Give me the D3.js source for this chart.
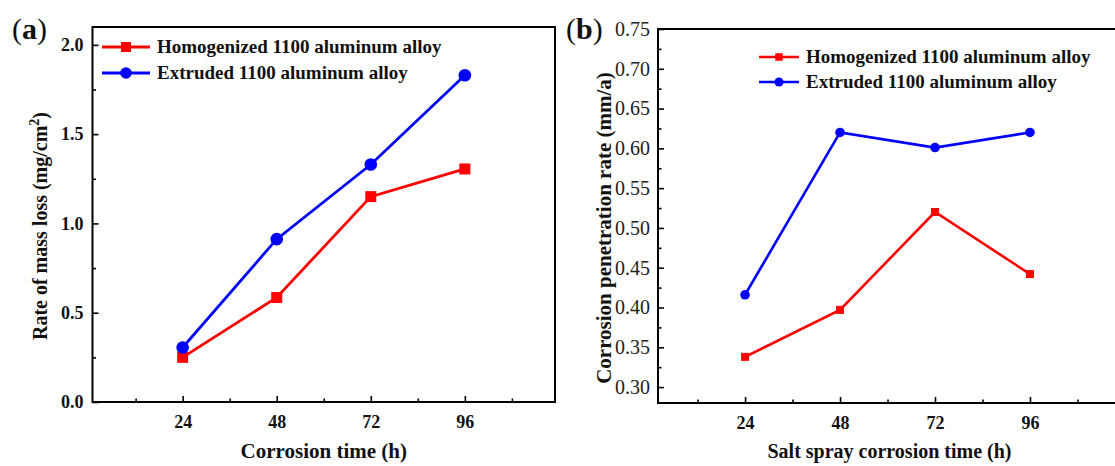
<!DOCTYPE html>
<html>
<head>
<meta charset="utf-8">
<script src="https://cdn.jsdelivr.net/npm/d3@7"></script>
<style>
  body { margin: 0; background: #fff; }
  svg { display: block; font-family: "Liberation Serif", "Times New Roman", serif; }
</style>
</head>
<body>
<script>
// data
var hours = [24, 48, 72, 96];
var massLossHomog = [0.25, 0.585, 1.15, 1.305];
var massLossExtr = [0.305, 0.912, 1.33, 1.83];
var penHomog = [0.338, 0.397, 0.52, 0.442];
var penExtr = [0.416, 0.62, 0.601, 0.62];

var xTicks = [24, 48, 72, 96];
var xMinorTicks = [12, 36, 60, 84, 108];
var yTicksA = [0, 0.5, 1.0, 1.5, 2.0];
var yMinorA = [0.25, 0.75, 1.25, 1.75];
var yTicksB = [0.30, 0.35, 0.40, 0.45, 0.50, 0.55, 0.60, 0.65, 0.70, 0.75];
var yMinorB = [0.325, 0.375, 0.425, 0.475, 0.525, 0.575, 0.625, 0.675, 0.725];

var seriesNames = ["Homogenized 1100 aluminum alloy", "Extruded 1100 aluminum alloy"];
var red = "#ff0000", blue = "#0000ff";
var serif = '"Liberation Serif", "Times New Roman", serif';

var svg = d3.select("body").append("svg")
    .attr("width", 1115)
    .attr("height", 466);

drawPanel = (p) => {
    var x = d3.scaleLinear().domain(p.xDomain).range([p.left, p.right]);
    var y = d3.scaleLinear().domain(p.yDomain).range([p.bottom, p.top]);
    var g = svg.append("g");

    // minor ticks
    g.append("g")
     .attr("transform", "translate(0," + p.bottom + ")")
     .call(d3.axisBottom(x).tickValues(xMinorTicks).tickSizeInner(-3.5).tickSizeOuter(0).tickFormat(""));
    g.append("g")
     .attr("transform", "translate(" + p.left + ",0)")
     .call(d3.axisLeft(y).tickValues(p.yMinor).tickSizeInner(-3.5).tickSizeOuter(0).tickFormat(""));

    // major ticks
    var xAx = g.append("g")
     .attr("transform", "translate(0," + p.bottom + ")")
     .call(d3.axisBottom(x).tickValues(xTicks).tickSizeInner(-6).tickSizeOuter(0).tickPadding(13).tickFormat(d3.format("d")));
    xAx.selectAll("text")
       .style("font-family", serif)
       .style("font-size", p.xTickSize + "px")
       .style("font-weight", "bold")
       .attr("fill", "#111");

    var yAx = g.append("g")
     .attr("transform", "translate(" + p.left + ",0)")
     .call(d3.axisLeft(y).tickValues(p.yTicks).tickSizeInner(-6).tickSizeOuter(0).tickPadding(p.yPad).tickFormat(d3.format(p.yFormat)));
    yAx.selectAll("text")
       .style("font-family", serif)
       .style("font-size", p.yTickSize + "px")
       .style("font-weight", p.yTickWeight)
       .attr("fill", p.yTickColor);

    g.selectAll("g").attr("font-family", null).attr("font-size", null);
    g.selectAll(".domain").remove();
    g.selectAll(".tick line").attr("stroke", "#000").attr("stroke-width", 1.6);

    // frame
    g.append("rect")
     .attr("x", p.left)
     .attr("y", p.top)
     .attr("width", p.right - p.left)
     .attr("height", p.bottom - p.top)
     .attr("fill", "none")
     .attr("stroke", "#000")
     .attr("stroke-width", 2);

    // series
    var line = d3.line().x((d, i) => x(hours[i])).y(d => y(d));
    var series = [
        {values: p.homog, color: red, shape: "square"},
        {values: p.extr, color: blue, shape: "circle"}
    ];
    series.forEach((s) => {
        g.append("path")
         .attr("d", line(s.values))
         .attr("fill", "none")
         .attr("stroke", s.color)
         .attr("stroke-width", p.lineWidth);
        drawMarkers(g, s.values.map((v, i) => [x(hours[i]), y(v)]), s, p.markerSize);
    });

    // legend
    series.forEach((s, i) => {
        var ly = p.legendY + i * p.legendGap;
        g.append("line")
         .attr("x1", p.legendX).attr("x2", p.legendX + p.legendLine)
         .attr("y1", ly).attr("y2", ly)
         .attr("stroke", s.color)
         .attr("stroke-width", p.lineWidth);
        drawMarkers(g, [[p.legendX + p.legendLine / 2, ly]], s, p.legendMarker);
        g.append("text")
         .attr("x", p.legendX + p.legendLine + 7)
         .attr("y", ly)
         .attr("dy", "0.33em")
         .style("font-size", "19px")
         .style("font-weight", "bold")
         .attr("fill", "#111")
         .text(seriesNames[i]);
    });

    // x title
    g.append("text")
     .attr("x", (p.left + p.right) / 2)
     .attr("y", 458)
     .attr("text-anchor", "middle")
     .style("font-size", p.xTitleSize + "px")
     .style("font-weight", "bold")
     .attr("fill", "#111")
     .text(p.xTitle);

    // y title
    var yt = g.append("text")
     .attr("transform", "translate(" + p.yTitleX + "," + p.yTitleY + ") rotate(-90)")
     .attr("text-anchor", "middle")
     .style("font-size", p.yTitleSize + "px")
     .style("font-weight", "bold")
     .attr("fill", "#111");
    p.yTitle(yt);

    // panel letter
    var lab = svg.append("text")
     .attr("x", p.labelX)
     .attr("y", 39)
     .style("font-size", "30px")
     .attr("fill", "#111");
    lab.append("tspan").text("(");
    lab.append("tspan").style("font-weight", "bold").text(p.label);
    lab.append("tspan").text(")");
}

drawMarkers = (g, pts, s, size) => {
    if (s.shape === "square") {
        g.selectAll(null).data(pts).enter().append("rect")
         .attr("x", d => d[0] - size / 2)
         .attr("y", d => d[1] - size / 2)
         .attr("width", size)
         .attr("height", size)
         .attr("fill", s.color);
    } else {
        g.selectAll(null).data(pts).enter().append("circle")
         .attr("cx", d => d[0])
         .attr("cy", d => d[1])
         .attr("r", size / 2 + 0.8)
         .attr("fill", s.color);
    }
}

// (a) mass loss
drawPanel({
    left: 92.5, right: 555, top: 27, bottom: 402,
    xDomain: [1, 119], yDomain: [0, 2.1],
    yTicks: yTicksA, yMinor: yMinorA, yFormat: ".1f",
    yTickSize: 18, yTickWeight: "bold", yTickColor: "#111", yPad: 9,
    xTickSize: 18,
    homog: massLossHomog, extr: massLossExtr,
    lineWidth: 2.8, markerSize: 11,
    legendX: 102, legendY: 47, legendGap: 26, legendLine: 48, legendMarker: 10,
    xTitle: "Corrosion time (h)", xTitleSize: 21,
    yTitleX: 47, yTitleY: 226, yTitleSize: 20,
    yTitle: (t) => {
        t.append("tspan").text("Rate of mass loss  (mg/cm");
        t.append("tspan").attr("dy", -8).style("font-size", "14px").text("2");
        t.append("tspan").attr("dy", 8).text(")");
    },
    label: "a", labelX: 12
});

// (b) penetration rate
drawPanel({
    left: 658, right: 1121, top: 29, bottom: 403,
    xDomain: [2, 119], yDomain: [0.28, 0.75],
    yTicks: yTicksB, yMinor: yMinorB, yFormat: ".2f",
    yTickSize: 20, yTickWeight: "normal", yTickColor: "#222", yPad: 8,
    xTickSize: 18,
    homog: penHomog, extr: penExtr,
    lineWidth: 2.6, markerSize: 8,
    legendX: 759, legendY: 57, legendGap: 25, legendLine: 40, legendMarker: 7.5,
    xTitle: "Salt spray corrosion time (h)", xTitleSize: 20,
    yTitleX: 611, yTitleY: 228, yTitleSize: 21,
    yTitle: (t) => {
        t.append("tspan").text("Corrosion penetration rate (mm/a)");
    },
    label: "b", labelX: 566
});
</script>
</body>
</html>
